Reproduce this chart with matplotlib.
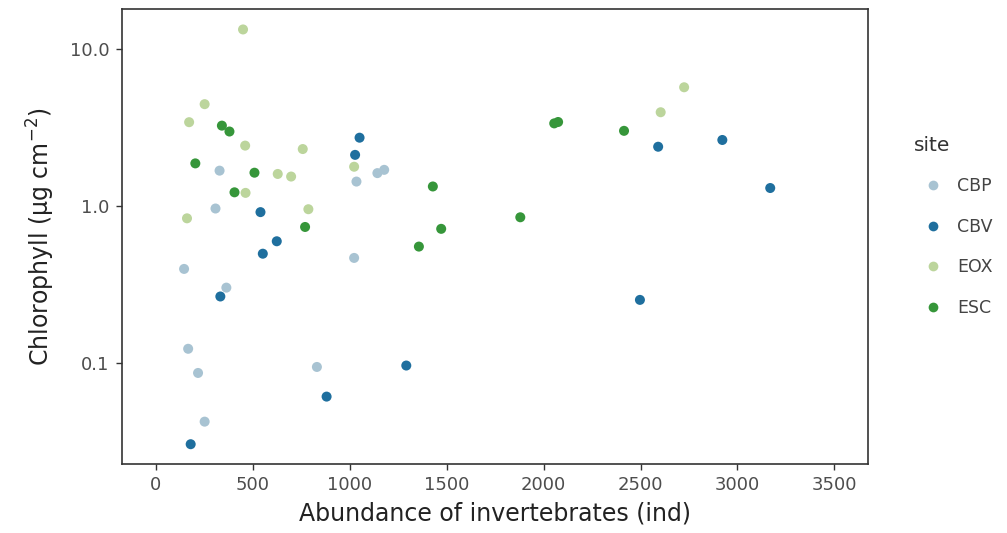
import matplotlib
matplotlib.use('Agg')
import matplotlib.pyplot as plt
from matplotlib.lines import Line2D

plt.rcParams['font.family'] = ['DejaVu Sans']
plt.rcParams['mathtext.fontset'] = 'dejavusans'

# data
sites = ['CBP', 'CBV', 'EOX', 'ESC']
colors = ['#a8c3d2', '#1f6f9e', '#bcd59c', '#36963a']

cbp_x = [1035, 1143, 1178, 329, 308, 1023, 146, 364, 167, 218, 831, 252]
cbp_y = [1.44, 1.63, 1.71, 1.69, 0.97, 0.47, 0.40, 0.304, 0.124, 0.087, 0.095, 0.0426]

cbv_x = [1051, 1028, 540, 624, 552, 333, 881, 1292, 180, 2591, 2922, 3169, 2497]
cbv_y = [2.74, 2.13, 0.92, 0.60, 0.50, 0.267, 0.0615, 0.097, 0.0306, 2.40, 2.65, 1.31, 0.254]

eox_x = [450, 252, 172, 461, 758, 1023, 629, 698, 463, 161, 787, 2725, 2604]
eox_y = [13.4, 4.48, 3.44, 2.44, 2.32, 1.79, 1.61, 1.55, 1.22, 0.84, 0.96, 5.74, 3.98]

esc_x = [341, 380, 204, 509, 406, 770, 1429, 1472, 1357, 2055, 2075, 2415, 1880]
esc_y = [3.27, 3.0, 1.88, 1.64, 1.23, 0.74, 1.34, 0.72, 0.555, 3.38, 3.45, 3.03, 0.853]

xs = [cbp_x, cbv_x, eox_x, esc_x]
ys = [cbp_y, cbv_y, eox_y, esc_y]

xticks = [0, 500, 1000, 1500, 2000, 2500, 3000, 3500]
yticks = [0.1, 1.0, 10.0]
ytick_labels = ['0.1', '1.0', '10.0']

fig = plt.figure(figsize=(10.07, 5.33), dpi=100)
ax = fig.add_axes([0.121, 0.1295, 0.7413, 0.853])

for x, y, c in zip(xs, ys, colors):
    ax.scatter(x, y, s=52, color=c, edgecolors='none', zorder=3)

ax.set_yscale('log')
ax.set_xlim(-175, 3675)
ax.set_ylim(0.0229, 18.0)
ax.set_xticks(xticks)
ax.set_yticks(yticks)
ax.set_yticklabels(ytick_labels)
ax.minorticks_off()
ax.tick_params(labelsize=13, colors='#4d4d4d', length=4, width=1, pad=5)
ax.tick_params(axis='both', color='#333333')

for sp in ax.spines.values():
    sp.set_color('#333333')
    sp.set_linewidth(1.2)

ax.set_xlabel('Abundance of invertebrates (ind)', fontsize=17, color='#222222', labelpad=5)
ax.set_ylabel('Chlorophyll (µg cm$^{-2}$)', fontsize=17, color='#222222', labelpad=9)

handles = [Line2D([], [], marker='o', linestyle='none', markersize=7,
                  markerfacecolor=c, markeredgecolor='none') for c in colors]
leg = fig.legend(handles, sites, title='site', loc='upper left',
                 bbox_to_anchor=(0.892, 0.775), frameon=False,
                 fontsize=12.5, title_fontsize=14.5, labelspacing=1.3,
                 handletextpad=0.3, handlelength=2.2)
leg._legend_box.align = 'left'
for t in leg.get_texts():
    t.set_color('#444444')
leg.get_title().set_color('#333333')

fig.savefig('out.png', dpi=100)
